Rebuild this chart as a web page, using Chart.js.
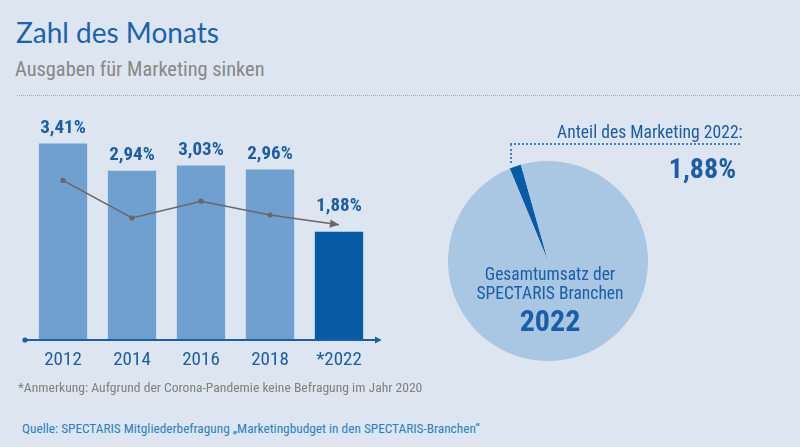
<!DOCTYPE html>
<html><head><meta charset="utf-8">
<script src="https://cdn.jsdelivr.net/npm/chart.js@4"></script>
<style>
html,body{margin:0;padding:0;background:#dde5f0;width:800px;height:447px;overflow:hidden;}
#wrap{position:relative;width:800px;height:447px;font-family:"Liberation Sans Narrow","Roboto Condensed","Liberation Sans",Arial,sans-serif;}
.abs{position:absolute;white-space:nowrap;line-height:1;}
#title{left:16px;top:18px;font-family:Lato,"Open Sans",sans-serif;font-size:28px;color:#1a62ae;}
#subtitle{left:15px;top:59px;font-size:20.4px;color:#878787;}
#sep{left:17px;top:95px;width:783px;height:0;border-top:1px dotted #a8a8a8;}
#note{left:18px;top:381px;font-size:13.6px;color:#808080;}
#source{left:22px;top:422px;font-size:13.3px;color:#2a80c0;}
#anteil{left:557px;top:124px;font-size:17.6px;color:#1a5ea8;}
#anteilVal{right:64px;top:155px;font-size:28px;font-weight:bold;color:#1a5ea8;}
#lead1{left:510px;top:143px;width:230px;height:0;border-top:2px dotted #3f7fc0;}
#lead2{left:510px;top:144px;width:0;height:19px;border-left:2px dotted #3f7fc0;}
.pt{left:450px;width:200px;text-align:center;color:#1a5ea8;}
#pt1{top:266px;font-size:17.5px;}
#pt2{top:285px;font-size:17.5px;}
#pt3{top:306px;font-size:30px;font-weight:bold;}
#barCanvas{position:absolute;left:0;top:100px;}
#pieCanvas{position:absolute;left:448px;top:161px;}
</style>
</head>
<body>
<div id="wrap">
  <div class="abs" id="title">Zahl des Monats</div>
  <div class="abs" id="subtitle">Ausgaben für Marketing sinken</div>
  <div class="abs" id="sep"></div>
  <canvas id="barCanvas" width="400" height="280"></canvas>
  <canvas id="pieCanvas" width="200" height="200"></canvas>
  <div class="abs" id="lead1"></div>
  <div class="abs" id="lead2"></div>
  <div class="abs" id="anteil">Anteil des Marketing 2022:</div>
  <div class="abs" id="anteilVal">1,88%</div>
  <div class="abs pt" id="pt1">Gesamtumsatz der</div>
  <div class="abs pt" id="pt2">SPECTARIS Branchen</div>
  <div class="abs pt" id="pt3">2022</div>
  <div class="abs" id="note">*Anmerkung: Aufgrund der Corona-Pandemie keine Befragung im Jahr 2020</div>
  <div class="abs" id="source">Quelle: SPECTARIS Mitgliederbefragung „Marketingbudget in den SPECTARIS-Branchen“</div>
</div>
<script>
// ---- data ----
const categories = ["2012", "2014", "2016", "2018", "*2022"];
const marketingShare = [3.41, 2.94, 3.03, 2.96, 1.88];
const trendLine = [2.77, 2.12, 2.41, 2.17, 2.0];
const pieLabels = ["Marketing", "Gesamtumsatz"];
const pieValues = [1.88, 98.12];

const FONT = '"Liberation Sans Narrow","Roboto Condensed","Liberation Sans",Arial,sans-serif';
const BLUE_TXT = '#1a5ea8';
const BAR_LIGHT = '#6fa0cf';
const BAR_DARK = '#075ba4';

const fmt = v => v.toFixed(2).replace('.', ',') + '%';

const decoPlugin = {
  id: 'deco',
  afterDatasetsDraw(chart) {
    const ctx = chart.ctx;
    const area = chart.chartArea;
    // axis line with dot and arrow
    const y0 = chart.scales.y.getPixelForValue(0);
    ctx.save();
    ctx.strokeStyle = BLUE_TXT; ctx.fillStyle = BLUE_TXT; ctx.lineWidth = 2;
    ctx.beginPath(); ctx.moveTo(area.left - 3.5, y0); ctx.lineTo(area.right + 3, y0); ctx.stroke();
    ctx.beginPath(); ctx.arc(area.left - 3.5, y0, 2.6, 0, Math.PI * 2); ctx.fill();
    ctx.beginPath(); ctx.moveTo(area.right + 8.2, y0); ctx.lineTo(area.right + 1.5, y0 - 3.6); ctx.lineTo(area.right + 1.5, y0 + 3.6); ctx.closePath(); ctx.fill();
    ctx.restore();
    // arrow head at the end of trend line
    const lineMeta = chart.getDatasetMeta(1);
    const pts = lineMeta.data;
    const a = pts[pts.length - 2], b = pts[pts.length - 1];
    const ang = Math.atan2(b.y - a.y, b.x - a.x);
    ctx.save();
    ctx.translate(b.x, b.y); ctx.rotate(ang);
    ctx.fillStyle = '#686868';
    ctx.beginPath(); ctx.moveTo(0, 0); ctx.lineTo(-9, -4.2); ctx.lineTo(-9, 4.2); ctx.closePath(); ctx.fill();
    ctx.restore();
    // value labels
    const barMeta = chart.getDatasetMeta(0);
    ctx.save();
    ctx.fillStyle = BLUE_TXT;
    ctx.font = 'bold 19px ' + FONT;
    ctx.textAlign = 'center'; ctx.textBaseline = 'middle';
    barMeta.data.forEach((bar, i) => {
      const y = Math.min(bar.y - 15.5, pts[i].y - 19);
      ctx.fillText(fmt(marketingShare[i]), bar.x, y);
    });
    ctx.restore();
  }
};

new Chart(document.getElementById('barCanvas'), {
  type: 'bar',
  data: {
    labels: categories,
    datasets: [
      {
        type: 'bar',
        data: marketingShare,
        backgroundColor: marketingShare.map((v, i) => i === marketingShare.length - 1 ? BAR_DARK : BAR_LIGHT),
        borderWidth: 0,
        categoryPercentage: 1,
        barPercentage: 0.7,
        order: 1
      },
      {
        type: 'line',
        data: trendLine,
        borderColor: '#686868',
        borderWidth: 1.5,
        pointRadius: trendLine.map((v, i) => i === trendLine.length - 1 ? 0 : 2.6),
        pointBackgroundColor: '#686868',
        pointBorderWidth: 0,
        tension: 0,
        fill: false,
        order: 0
      }
    ]
  },
  options: {
    responsive: false,
    animation: false,
    layout: { padding: { left: 28.5, right: 26.5, top: 9.6, bottom: 10 } },
    plugins: { legend: { display: false }, tooltip: { enabled: false } },
    scales: {
      x: {
        grid: { display: false, drawTicks: false },
        border: { display: false },
        ticks: { color: BLUE_TXT, font: { family: FONT, size: 19 }, padding: 9, maxRotation: 0 },
        afterFit(scale) { scale.height = 30; }
      },
      y: { display: false, min: 0, max: 4 }
    }
  },
  plugins: [decoPlugin]
});

new Chart(document.getElementById('pieCanvas'), {
  type: 'pie',
  data: {
    labels: pieLabels,
    datasets: [{ data: pieValues, backgroundColor: [BAR_DARK, '#a9c6e2'], borderWidth: 0 }]
  },
  options: {
    responsive: false,
    animation: false,
    rotation: -22.5,
    layout: { padding: 0 },
    plugins: { legend: { display: false }, tooltip: { enabled: false } }
  }
});
</script>
</body></html>
